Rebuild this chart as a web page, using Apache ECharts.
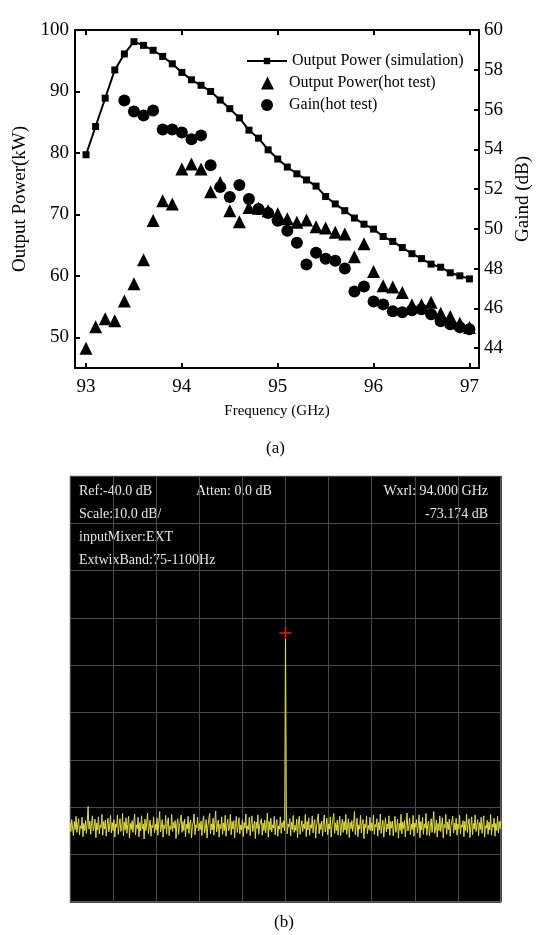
<!DOCTYPE html>
<html>
<head>
<meta charset="utf-8">
<script src="https://cdn.jsdelivr.net/npm/echarts@6/dist/echarts.min.js"></script>
<style>
  html, body { margin: 0; padding: 0; background: #fff; }
  #main { width: 537px; height: 935px; }
</style>
</head>
<body>
<div id="main"></div>
<script>
// (a) 频率点 GHz
var freqAll = [93.0, 93.1, 93.2, 93.3, 93.4, 93.5, 93.6, 93.7, 93.8, 93.9,
               94.0, 94.1, 94.2, 94.3, 94.4, 94.5, 94.6, 94.7, 94.8, 94.9,
               95.0, 95.1, 95.2, 95.3, 95.4, 95.5, 95.6, 95.7, 95.8, 95.9,
               96.0, 96.1, 96.2, 96.3, 96.4, 96.5, 96.6, 96.7, 96.8, 96.9, 97.0];
var freqGain = [93.4, 93.5, 93.6, 93.7, 93.8, 93.9,
                94.0, 94.1, 94.2, 94.3, 94.4, 94.5, 94.6, 94.7, 94.8, 94.9,
                95.0, 95.1, 95.2, 95.3, 95.4, 95.5, 95.6, 95.7, 95.8, 95.9,
                96.0, 96.1, 96.2, 96.3, 96.4, 96.5, 96.6, 96.7, 96.8, 96.9, 97.0];
// 仿真输出功率 kW
var powerSim = [79.7, 84.3, 88.9, 93.5, 96.1, 98.1, 97.5, 96.7, 95.7, 94.5,
                93.1, 91.9, 91.0, 90.0, 88.6, 87.2, 85.7, 83.7, 82.4, 80.5,
                79.0, 77.7, 76.6, 75.6, 74.6, 72.9, 71.7, 70.6, 69.4, 68.4,
                67.6, 66.4, 65.6, 64.6, 63.6, 62.8, 61.9, 61.4, 60.5, 60.0, 59.5];
// 热测输出功率 kW
var powerHot = [48.2, 51.7, 53.0, 52.7, 55.9, 58.7, 62.6, 69.0, 72.2, 71.7,
                77.4, 78.2, 77.4, 73.7, 75.2, 70.6, 68.8, 71.1, 71.0, 70.6,
                70.1, 69.3, 68.7, 69.1, 68.0, 67.8, 67.1, 66.8, 63.1, 65.2,
                60.7, 58.4, 58.2, 57.3, 55.3, 55.3, 55.7, 53.9, 53.4, 52.3, 51.6];
// 热测增益 dB
var gainHot = [56.45, 55.9, 55.7, 55.95, 55.0, 55.0,
               54.85, 54.5, 54.7, 53.2, 52.1, 51.6, 52.2, 51.5, 51.0, 50.8,
               50.4, 49.9, 49.3, 48.2, 48.8, 48.5, 48.4, 48.0, 46.85, 47.1,
               46.35, 46.2, 45.85, 45.8, 45.9, 45.95, 45.7, 45.35, 45.2, 45.05, 44.95];

var freqTicks = [93, 94, 95, 96, 97];
var powerTicks = [50, 60, 70, 80, 90, 100];
var gainTicks = [44, 46, 48, 50, 52, 54, 56, 58, 60];

// (b) 频谱仪迹线 dB，每格 50 点，共 10 格
var spectrum = [
  -113.2,-115.1,-112.6,-114.4,-116.0,-113.0,-114.7,-111.9,-115.3,-113.6,-112.4,-115.8,-113.9,-114.5,-112.1,-116.2,-113.4,-114.9,-112.8,-115.5,-113.1,-109.8,-114.6,-112.9,-115.7,
  -113.5,-111.8,-115.0,-114.1,-112.5,-116.4,-113.3,-114.8,-112.0,-115.6,-113.7,-114.3,-111.5,-115.9,-113.0,-114.6,-112.7,-116.1,-113.8,-112.3,-115.2,-114.0,-111.7,-115.4,-113.2,
  -114.9,-112.6,-116.3,-113.5,-114.2,-111.6,-115.7,-113.9,-112.4,-115.1,-114.4,-111.3,-116.0,-113.1,-114.8,-112.2,-115.5,-113.6,-111.9,-116.5,-113.4,-114.7,-112.8,-115.3,-113.0,
  -111.4,-115.8,-113.7,-114.5,-112.1,-116.2,-113.2,-115.0,-111.8,-114.6,-113.5,-116.7,-112.5,-114.9,-113.3,-111.2,-115.6,-114.0,-112.7,-116.1,-113.8,-114.3,-112.0,-115.4,-113.6,
  -114.8,-112.3,-115.9,-113.1,-110.9,-115.2,-114.2,-112.6,-116.3,-113.7,-114.5,-111.7,-115.6,-113.4,-112.2,-116.0,-113.9,-114.7,-111.5,-115.1,-113.2,-114.4,-112.8,-116.6,-113.5,
  -112.4,-115.7,-113.8,-114.1,-111.6,-115.3,-113.0,-114.9,-112.5,-116.2,-113.6,-114.6,-111.9,-115.5,-113.3,-112.7,-116.4,-114.0,-113.1,-111.4,-115.8,-113.7,-114.3,-112.1,-115.0,
  -113.4,-114.7,-112.9,-116.0,-113.2,-111.8,-115.4,-114.4,-112.6,-116.5,-113.9,-114.2,-111.3,-115.6,-113.5,-114.8,-112.3,-115.9,-113.1,-110.8,-115.2,-114.1,-112.7,-116.3,-113.6,
  -114.5,-112.0,-115.7,-113.3,-114.9,-111.7,-116.1,-113.8,-112.5,-115.0,-114.3,-111.5,-115.8,-113.0,-114.6,-112.8,-116.4,-113.4,-111.9,-115.3,-114.0,-112.2,-115.6,-113.7,-114.8,
  -112.6,-116.2,-113.2,-114.4,-111.4,-115.5,-113.9,-114.7,-112.1,-116.0,-113.5,-111.8,-115.1,-114.2,-112.9,-116.6,-113.1,-114.5,-111.6,-115.7,-113.8,-114.1,-112.4,-115.9,-113.3,
  -114.9,-112.7,-115.4,-113.6,-111.2,-116.3,-113.0,-114.8,-112.3,-115.2,-113.7,-114.4,-111.9,-115.8,-113.4,-112.6,-116.1,-113.9,-114.6,-112.0,-115.5,-113.2,-114.3,-112.8,-115.0,
  -73.174,
  -111.0,-115.6,-113.5,-114.2,-112.4,-116.0,-113.1,-114.7,-111.7,-115.3,-113.8,-114.9,-112.5,-116.4,-113.3,-111.9,-115.7,-114.1,-112.8,-115.1,-113.6,-114.5,-111.5,-116.2,-113.0,
  -114.8,-112.2,-115.9,-113.7,-114.4,-111.8,-115.4,-113.2,-112.6,-116.5,-113.9,-114.0,-111.4,-115.6,-113.4,-114.7,-112.9,-116.1,-113.1,-111.6,-115.2,-114.3,-112.3,-115.8,-113.5,
  -114.6,-112.0,-116.3,-113.8,-114.1,-111.3,-115.5,-113.3,-114.9,-112.7,-115.9,-113.6,-111.9,-116.0,-114.2,-112.5,-115.3,-113.0,-114.8,-111.5,-115.7,-113.9,-112.4,-116.4,-113.2,
  -114.5,-112.8,-115.1,-113.4,-110.9,-115.8,-114.0,-112.3,-116.2,-113.7,-114.6,-111.7,-115.4,-113.1,-112.6,-116.6,-113.5,-114.3,-111.8,-115.6,-113.8,-114.7,-112.1,-115.0,-113.3,
  -114.9,-111.6,-115.7,-113.6,-114.2,-112.4,-116.1,-113.2,-114.8,-111.4,-115.5,-113.9,-112.7,-116.3,-114.1,-112.2,-115.2,-113.5,-114.6,-111.8,-115.9,-113.0,-114.4,-112.9,-116.0,
  -113.7,-111.9,-115.3,-114.3,-112.5,-116.5,-113.4,-114.9,-111.5,-115.6,-113.1,-114.5,-112.8,-116.2,-113.8,-111.2,-115.0,-114.0,-112.3,-115.8,-113.6,-114.7,-111.7,-116.1,-113.3,
  -114.2,-112.6,-115.4,-113.9,-111.6,-116.4,-113.0,-114.8,-112.1,-115.7,-113.5,-114.4,-111.3,-115.9,-113.7,-112.9,-116.0,-114.1,-112.4,-115.3,-113.2,-110.9,-115.5,-114.6,-112.7,
  -116.3,-113.4,-114.9,-111.8,-115.1,-113.8,-112.2,-116.5,-113.6,-114.3,-111.5,-115.7,-113.1,-114.7,-112.5,-116.1,-113.9,-114.0,-111.9,-115.4,-113.3,-114.8,-112.3,-115.9,-113.5,
  -114.5,-111.7,-115.6,-113.7,-114.2,-112.8,-116.2,-113.0,-114.9,-111.4,-115.3,-113.6,-112.4,-116.4,-114.1,-112.0,-115.8,-113.4,-114.6,-111.6,-115.1,-113.8,-112.6,-116.0,-113.2,
  -114.7,-112.1,-115.5,-113.5,-111.8,-116.3,-113.9,-114.4,-112.7,-115.7,-113.1,-114.8,-111.5,-115.9,-113.6,-114.2,-112.3,-116.1,-113.4,-114.9,-111.9,-115.4,-113.0,-114.5,-112.8
];
var pointsPerDiv = 50;
var markerIndex = 250;   // 峰值位置 94.000 GHz
var markerValue = -73.174;

var serif = "'Liberation Serif', 'Times New Roman', serif";

function pairs(xs, ys) {
  return xs.map(function (x, i) { return [x, ys[i]]; });
}

var chart = echarts.init(document.getElementById('main'));

var axisLine = { show: true, lineStyle: { color: '#000', width: 2 } };
var tickIn = { show: true, inside: true, length: 5, lineStyle: { color: '#000', width: 2 } };
var legendText = { fontFamily: serif, fontSize: 16, color: '#000' };

var option = {
  backgroundColor: '#fff',
  animation: false,
  grid: [
    { left: 75, top: 30, width: 404, height: 338, outerBoundsMode: 'none' },
    { left: 70, top: 476, width: 431, height: 426, outerBoundsMode: 'none', show: true,
      backgroundColor: '#000', borderColor: '#b0b0b0', borderWidth: 1 }
  ],
  legend: [
    { left: 246, top: 53, padding: 0, itemWidth: 40, itemHeight: 8,
      data: ['Output Power (simulation)'], textStyle: legendText },
    { left: 261, top: 75, padding: 0, itemWidth: 13, itemHeight: 13,
      data: ['Output Power(hot test)'], textStyle: Object.assign({ padding: [0, 0, 0, 10] }, legendText) },
    { left: 261, top: 97, padding: 0, itemWidth: 12, itemHeight: 12,
      data: ['Gain(hot test)'], textStyle: Object.assign({ padding: [0, 0, 0, 11] }, legendText) }
  ],
  xAxis: [
    { gridIndex: 0, type: 'value', min: 92.885, max: 97.1, position: 'bottom',
      name: 'Frequency (GHz)', nameLocation: 'middle', nameGap: 36,
      nameTextStyle: { fontFamily: serif, fontSize: 15, color: '#000' },
      axisLine: axisLine,
      axisTick: Object.assign({ customValues: freqTicks }, tickIn),
      axisLabel: { customValues: freqTicks, fontFamily: serif, fontSize: 19, color: '#000', margin: 10 },
      splitLine: { show: false } },
    { gridIndex: 0, type: 'value', min: 92.885, max: 97.1, position: 'top',
      axisLine: axisLine,
      axisTick: Object.assign({ customValues: freqTicks }, tickIn),
      axisLabel: { show: false }, splitLine: { show: false } },
    { gridIndex: 1, type: 'value', min: 0, max: 10, interval: 1,
      axisLine: { show: false }, axisTick: { show: false }, axisLabel: { show: false },
      splitLine: { show: true, lineStyle: { color: '#4a4a4a', width: 1 } } }
  ],
  yAxis: [
    { gridIndex: 0, type: 'value', min: 45, max: 100, position: 'left',
      name: 'Output Power(kW)', nameLocation: 'middle', nameGap: 41, nameRotate: 90,
      nameTextStyle: { fontFamily: serif, fontSize: 19, color: '#000' },
      axisLine: axisLine,
      axisTick: Object.assign({ customValues: powerTicks }, tickIn),
      axisLabel: { customValues: powerTicks, fontFamily: serif, fontSize: 19, color: '#000', margin: 6 },
      splitLine: { show: false } },
    { gridIndex: 0, type: 'value', min: 43, max: 60, position: 'right',
      name: 'Gaind (dB)', nameLocation: 'middle', nameGap: 34, nameRotate: 90,
      nameTextStyle: { fontFamily: serif, fontSize: 19, color: '#000' },
      axisLine: axisLine,
      axisTick: Object.assign({ customValues: gainTicks }, tickIn),
      axisLabel: { customValues: gainTicks, fontFamily: serif, fontSize: 19, color: '#000', margin: 5 },
      splitLine: { show: false } },
    { gridIndex: 1, type: 'value', min: -130, max: -40, interval: 10,
      axisLine: { show: false }, axisTick: { show: false }, axisLabel: { show: false },
      splitLine: { show: true, lineStyle: { color: '#4a4a4a', width: 1 } } }
  ],
  series: [
    { name: 'Output Power (simulation)', type: 'line', xAxisIndex: 0, yAxisIndex: 0,
      data: pairs(freqAll, powerSim), symbol: 'rect', symbolSize: 7, showAllSymbol: true,
      lineStyle: { color: '#000', width: 2 }, itemStyle: { color: '#000', opacity: 1 } },
    { name: 'Output Power(hot test)', type: 'scatter', xAxisIndex: 0, yAxisIndex: 0,
      data: pairs(freqAll, powerHot), symbol: 'triangle', symbolSize: 13,
      itemStyle: { color: '#000', opacity: 1 } },
    { name: 'Gain(hot test)', type: 'scatter', xAxisIndex: 0, yAxisIndex: 1,
      data: pairs(freqGain, gainHot), symbol: 'circle', symbolSize: 12,
      itemStyle: { color: '#000', opacity: 1 } },
    { name: 'trace', type: 'line', xAxisIndex: 2, yAxisIndex: 2, z: 3,
      data: spectrum.map(function (v, i) { return [i / pointsPerDiv, v]; }),
      symbol: 'none', lineStyle: { color: '#e2dc42', width: 1 },
      markPoint: {
        z: 10,
        symbol: 'path://M4.3,0h1.4v4.3h4.3v1.4h-4.3v4.3h-1.4v-4.3h-4.3v-1.4h4.3z',
        symbolSize: 12, itemStyle: { color: '#d42020' }, label: { show: false },
        data: [{ coord: [markerIndex / pointsPerDiv, markerValue] }]
      } }
  ],
  graphic: [
    { type: 'text', left: 266, top: 440, style: { text: '(a)', font: '17px ' + serif, fill: '#000' } },
    { type: 'text', left: 274, top: 914, style: { text: '(b)', font: '17px ' + serif, fill: '#000' } },
    { type: 'text', left: 79, top: 484, style: { text: 'Ref:-40.0 dB', font: '14px ' + serif, fill: '#e6e6e6' } },
    { type: 'text', left: 196, top: 484, style: { text: 'Atten: 0.0 dB', font: '14px ' + serif, fill: '#e6e6e6' } },
    { type: 'text', right: 49, top: 484, style: { text: 'Wxrl: 94.000 GHz', font: '14px ' + serif, fill: '#e6e6e6' } },
    { type: 'text', left: 79, top: 507, style: { text: 'Scale:10.0 dB/', font: '14px ' + serif, fill: '#e6e6e6' } },
    { type: 'text', right: 49, top: 507, style: { text: '-73.174 dB', font: '14px ' + serif, fill: '#e6e6e6' } },
    { type: 'text', left: 79, top: 530, style: { text: 'inputMixer:EXT', font: '14px ' + serif, fill: '#e6e6e6' } },
    { type: 'text', left: 79, top: 553, style: { text: 'ExtwixBand:75-1100Hz', font: '14px ' + serif, fill: '#e6e6e6' } }
  ]
};

chart.setOption(option);
</script>
</body>
</html>
